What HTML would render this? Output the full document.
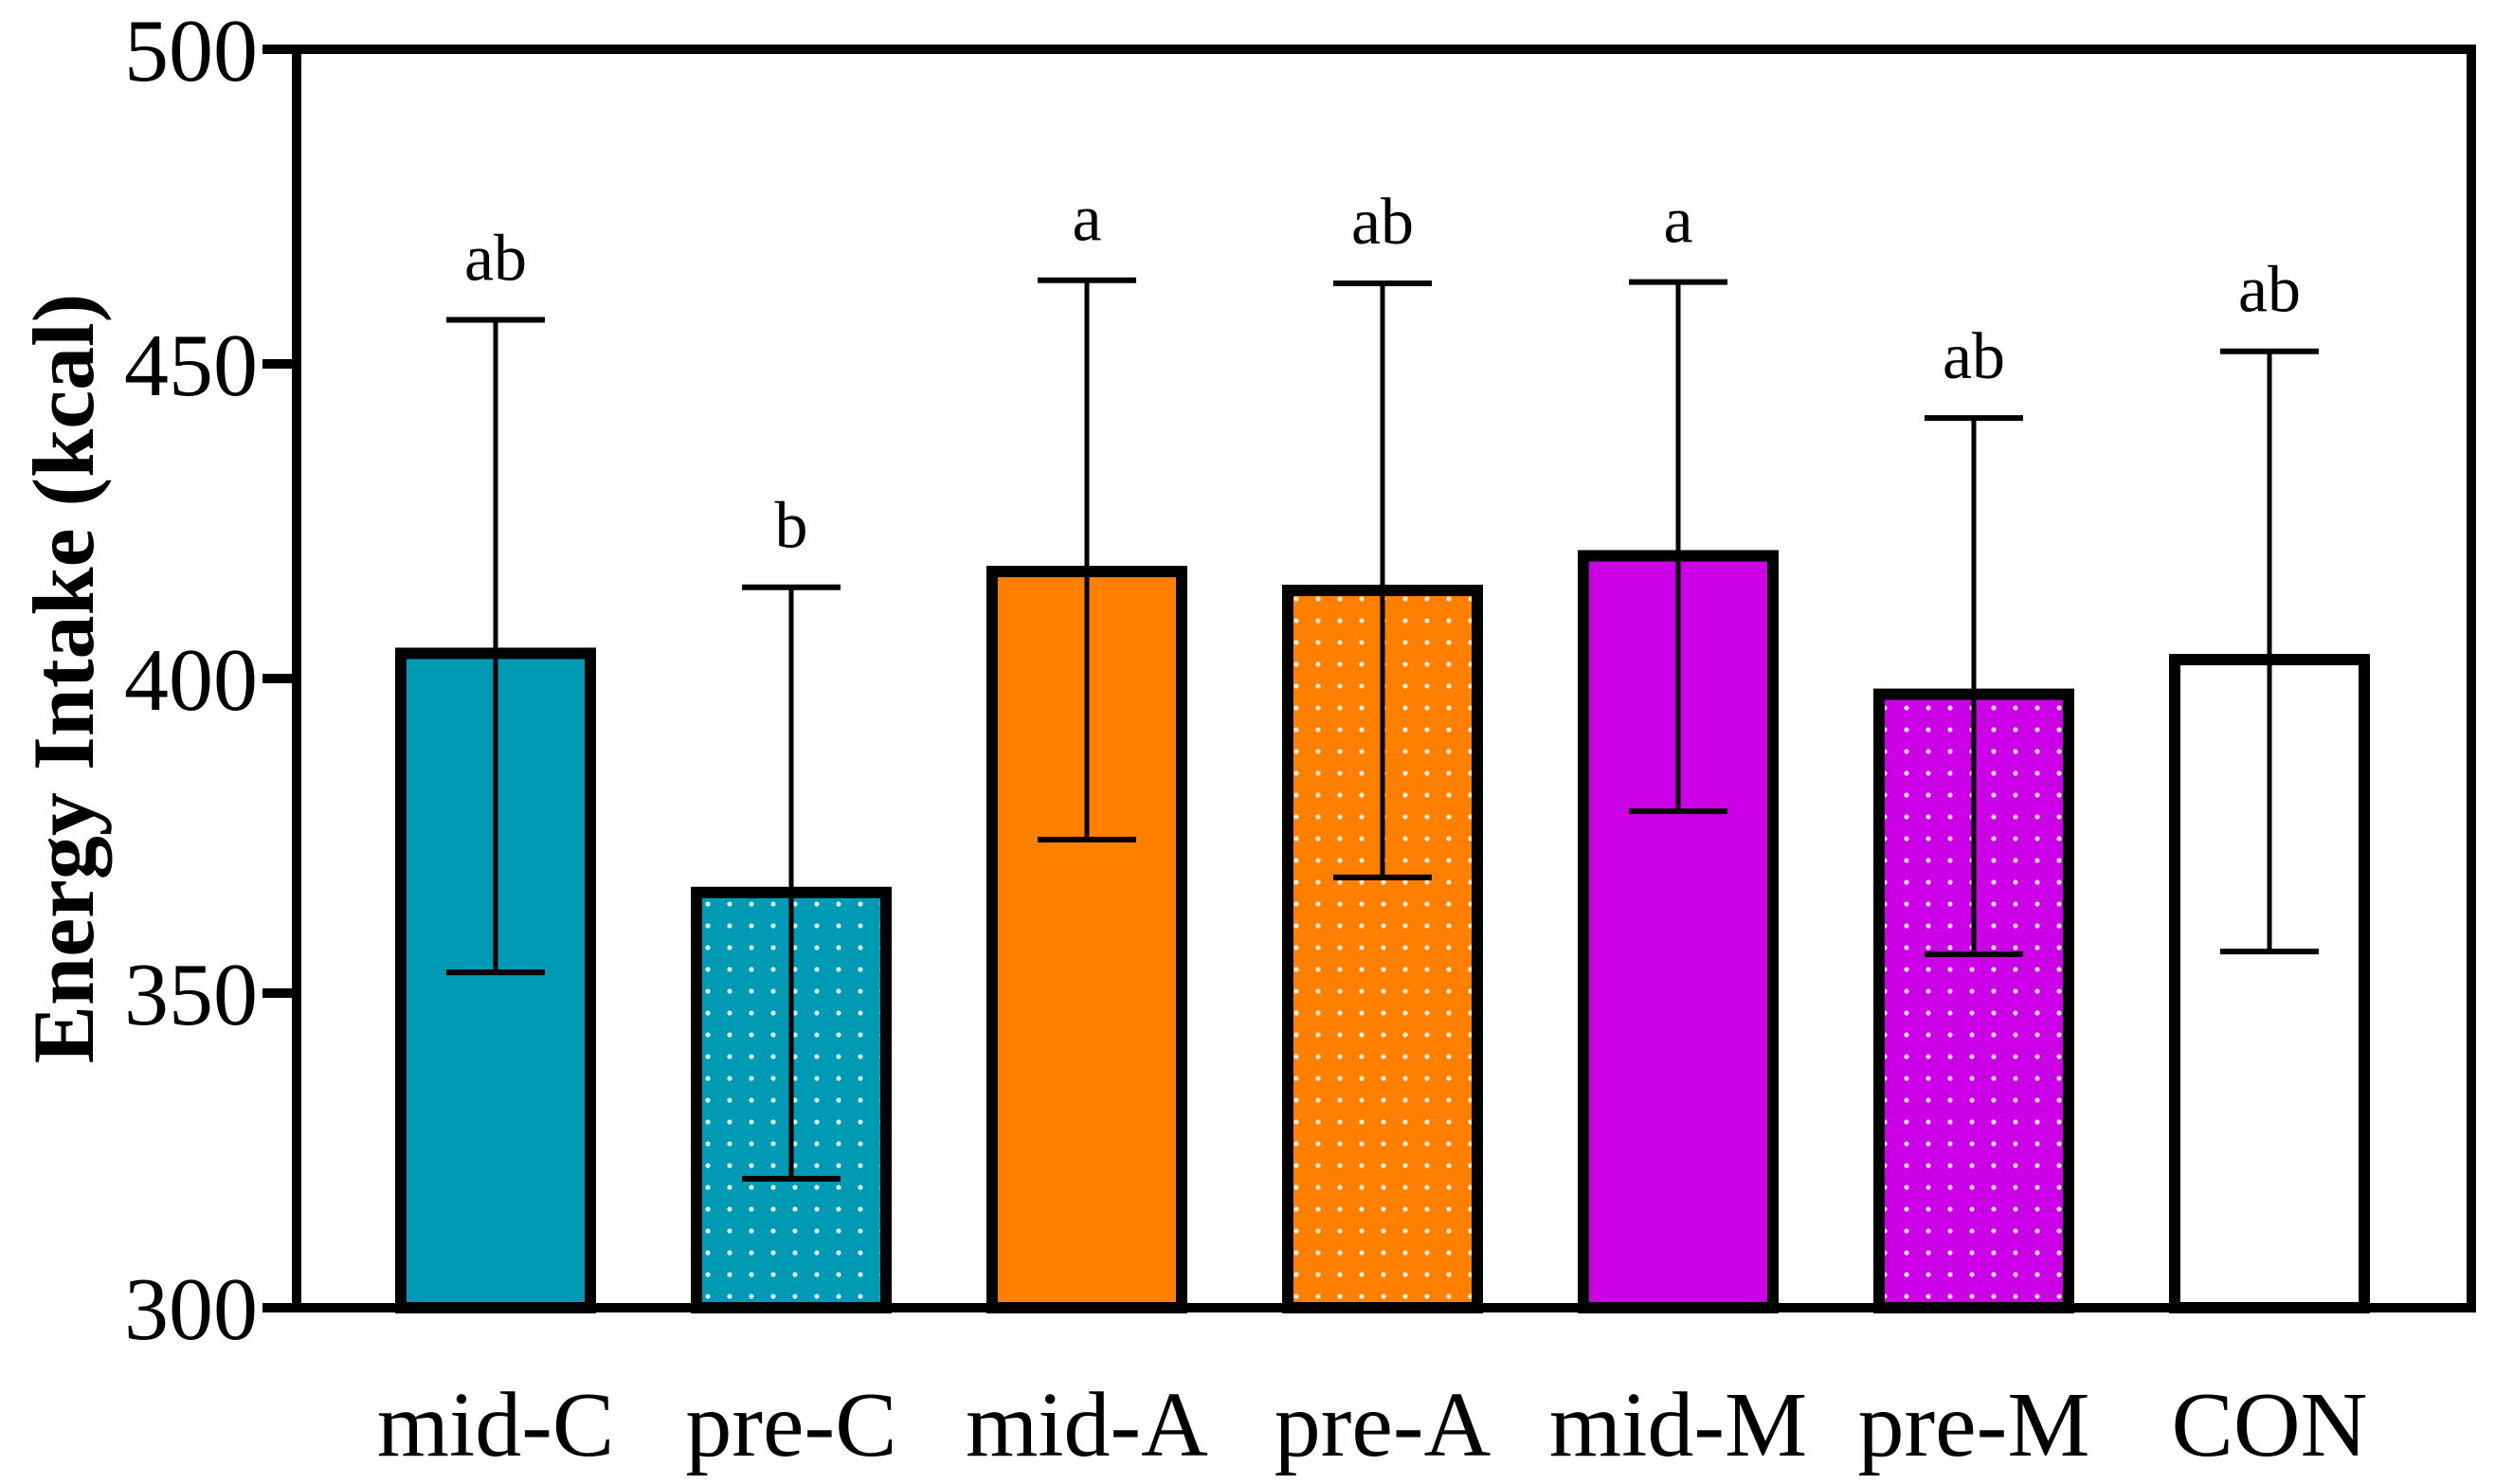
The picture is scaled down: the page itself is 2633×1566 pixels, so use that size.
<!DOCTYPE html>
<html><head><meta charset="utf-8"><style>body{margin:0;background:#fff}svg{display:block}</style></head>
<body>
<svg id="chart" width="2633" height="1566" viewBox="0 0 2633 1566" xmlns="http://www.w3.org/2000/svg" font-family="Liberation Serif, serif">
<defs>
<pattern id="dots" width="23" height="23" patternUnits="userSpaceOnUse"><circle cx="11" cy="11" r="2.6" fill="#fff" opacity="0.85"/></pattern>
</defs>
<g id="plot"></g>
</svg>
<script>
const categories = ["mid-C","pre-C","mid-A","pre-A","mid-M","pre-M","CON"];
const means = [404, 366, 417, 414, 419.5, 397.5, 403];
const upper = [457, 414.5, 463.3, 462.8, 463, 441.4, 452];
const lower = [353.3, 320.5, 374.4, 368.4, 378.9, 356.2, 356.6];
const letters = ["ab","b","a","ab","a","ab","ab"];
const colors = ["#009AB5","#009AB5","#FF8000","#FF8000","#CC00E6","#CC00E6","#FFFFFF"];
const dotted = [false,true,false,true,false,true,false];
const yTicks = [300,350,400,450,500];

const NS="http://www.w3.org/2000/svg";
const L=313,R=2608,T=52,B=1380;
const y=v=>B-(v-300)/200*(B-T);
const x0=523;
const x=i=>x0+i*312;
const g=document.getElementById('plot');
function el(tag,a,parent){const e=document.createElementNS(NS,tag);for(const k in a)e.setAttribute(k,a[k]);(parent||g).appendChild(e);return e;}

categories.forEach((c,i)=>{
  const cx=x(i),w=200;
  const b=el('rect',{x:cx-w/2,y:y(means[i]),width:w,height:B-y(means[i]),fill:colors[i],stroke:'#000','stroke-width':12});
  
  
  if(dotted[i]){const p=el('rect',{x:cx-w/2+6,y:y(means[i])+6,width:w-12,height:B-y(means[i])-6,fill:'url(#dots)'});
    
    }
  const eg=el('g',{stroke:'#000'});
  
  
  el('line',{x1:cx,x2:cx,y1:y(upper[i]),y2:y(lower[i]),'stroke-width':5},eg);
  el('line',{x1:cx-52,x2:cx+52,y1:y(upper[i]),y2:y(upper[i]),'stroke-width':6},eg);
  el('line',{x1:cx-52,x2:cx+52,y1:y(lower[i]),y2:y(lower[i]),'stroke-width':6},eg);
  const t=el('text',{x:cx,y:y(upper[i])-42,'text-anchor':'middle','font-size':70});
  t.textContent=letters[i];
  
  
  const xl=el('text',{x:cx,y:1536,'text-anchor':'middle','font-size':98});
  xl.textContent=c;
  
  
});
const fr=el('rect',{x:L,y:T,width:R-L,height:B-T,fill:'none',stroke:'#000','stroke-width':10});


yTicks.forEach(v=>{
  const tk=el('line',{x1:L-36,x2:L,y1:y(v),y2:y(v),stroke:'#000','stroke-width':10});
  
  
  const t=el('text',{x:272,y:y(v)+33,'text-anchor':'end','font-size':94});
  t.textContent=v;
  
  
});
const yt=el('text',{x:0,y:0,transform:'translate(98,716) rotate(-90)','text-anchor':'middle','font-size':92,'font-weight':'bold'});
yt.textContent='Energy Intake (kcal)';


</script>
</body></html>
